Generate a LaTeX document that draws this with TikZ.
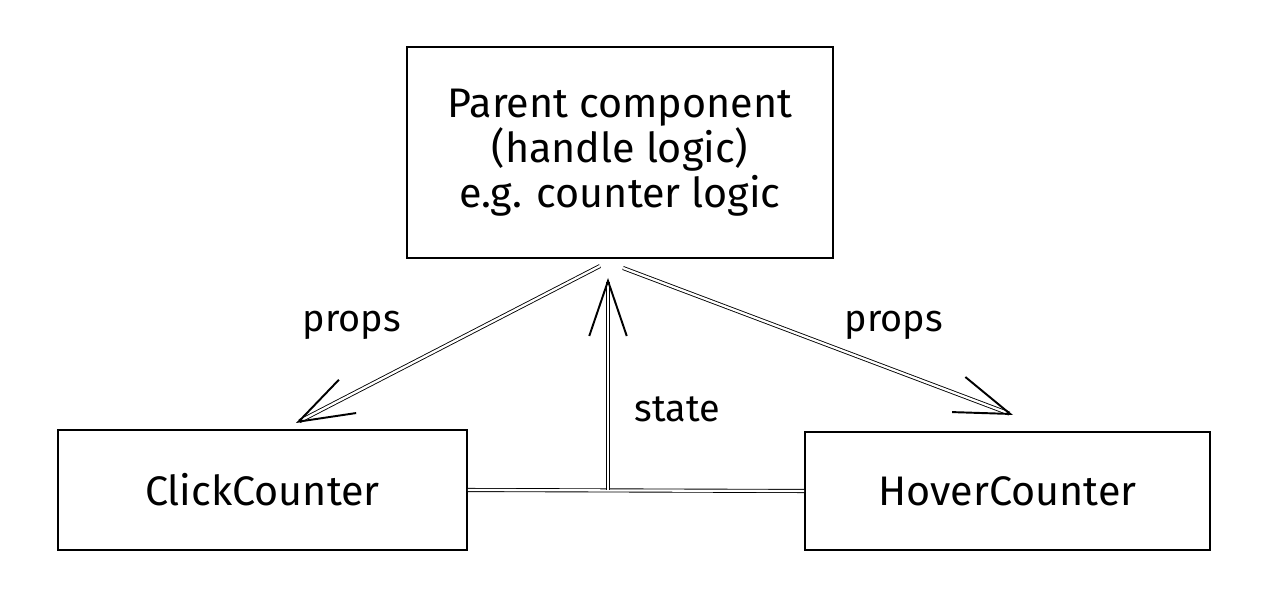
\documentclass[tikz,border=0pt]{standalone}
\usepackage{fontspec}
\setmainfont{Fira Sans}
\usepackage{tikz}
\usetikzlibrary{positioning,calc}
\usetikzlibrary{arrows.meta}
\tikzset{
  comp/.style={draw=black,line width=1.1pt,fill=white,align=center,font=\fontsize{23.5}{25.5}\selectfont},
  link/.style={draw=black,line width=0.5pt,double=white,double distance=1.3pt},
  flow/.style={link,-{Straight Barb[length=11mm,width=7.5mm,line width=1.1pt]}},
}
\tikzset{lbl/.style={font=\fontsize{21.5}{25}\selectfont,inner sep=1pt}}
\begin{document}
\begin{tikzpicture}
\useasboundingbox (0,0) rectangle (25.24,12.04);
\node[comp,minimum width=8.52cm,minimum height=4.22cm] (parent) at (12.4,8.99) {Parent component\\(handle logic)\\e.g. counter logic};
\node[comp,minimum width=8.18cm,minimum height=2.4cm] (click) at (5.25,2.24) {ClickCounter};
\node[comp,minimum width=8.1cm,minimum height=2.36cm] (hover) at (20.15,2.22) {HoverCounter};
\coordinate (pl) at (12.0,6.72);
\coordinate (pr) at (12.46,6.68);
\coordinate (ps) at (12.16,6.48);
\coordinate (cl) at (5.92,3.58);
\coordinate (hv) at (20.26,3.74);
\coordinate (js) at (12.16,2.24);
\draw[link] (click.east) -- (hover.west);
\draw[flow] (pl) -- (cl);
\draw[flow] (pr) -- (hv);
\draw[flow] (js) -- (ps);
\node[lbl] (lprops) at (7.04,5.54) {props};
\node[lbl] (rprops) at (17.88,5.54) {props};
\node[lbl] (lstate) at (13.54,3.86) {state};
\end{tikzpicture}
\end{document}
